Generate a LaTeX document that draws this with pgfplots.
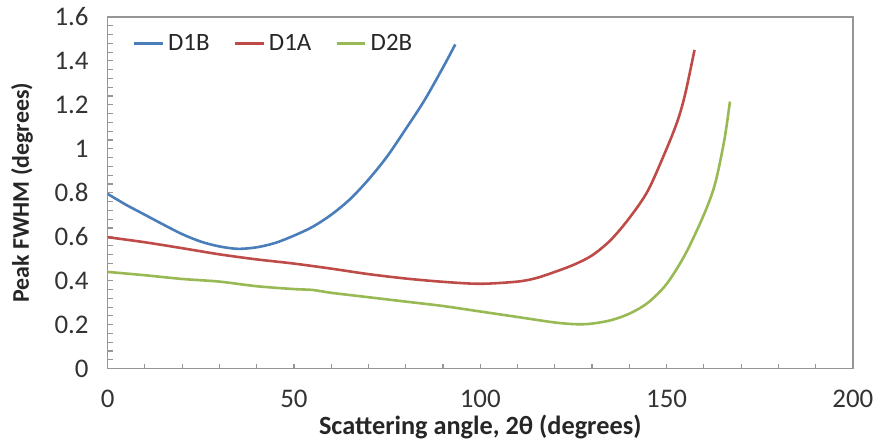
\documentclass[border=0pt]{standalone}
\usepackage{fontspec}
\setmainfont{Carlito}
\usepackage{pgfplots}
\pgfplotsset{compat=1.18}
\definecolor{cB}{RGB}{74,126,187}
\definecolor{cR}{RGB}{190,75,72}
\definecolor{cG}{RGB}{152,185,84}
\definecolor{axg}{RGB}{150,150,150}
\begin{document}
\begin{tikzpicture}
\begin{axis}[
  scale only axis,
  width=374pt, height=176.5pt,
  xmin=0, xmax=200, ymin=0, ymax=1.6,
  xtick={0,50,...,200}, ytick={0,0.2,...,1.6},
  yticklabels={0,0.2,0.4,0.6,0.8,1,1.2,1.4,1.6},
  minor x tick num=4, minor y tick num=4,
  tick align=inside, tick pos=left,
  major tick length=2.5pt, minor tick length=2.5pt,
  every tick/.style={axg, line width=0.6pt},
  axis line style={axg, line width=0.8pt},
  /pgf/number format/assume math mode=true,
  tick label style={font=\fontsize{13.5}{15}\selectfont, text=black!80},
  xticklabel style={yshift=-7pt},
  yticklabel style={xshift=-6pt},
  xlabel={\textbf{Scattering angle, 2θ (degrees)}},
  ylabel={\textbf{Peak FWHM (degrees)}},
  xlabel style={font=\fontsize{13.2}{15}\selectfont, text=black!85, yshift=3pt},
  ylabel style={font=\fontsize{12}{14}\selectfont, text=black!85, yshift=4pt},
  legend style={at={(0.025,0.975)}, anchor=north west, draw=none, fill=none,
    font=\fontsize{12.5}{14}\selectfont, text=black!85,
    /tikz/every even column/.append style={column sep=10pt}},
  legend columns=3,
  legend image code/.code={\draw[#1] (0pt,0pt) -- (14.5pt,0pt);},
  every axis plot/.append style={line width=1.3pt, smooth, no markers},
]
\addplot[cB] coordinates {
(0,0.795) (5,0.745) (10,0.70) (15,0.655) (20,0.612) (25,0.578) (30,0.556)
(35,0.545) (40,0.552) (45,0.572) (50,0.605) (55,0.645) (60,0.70) (65,0.77)
(70,0.86) (75,0.965) (80,1.09) (85,1.22) (90,1.37) (93.3,1.475)};
\addlegendentry{D1B}
\addplot[cR] coordinates {
(0,0.598) (10,0.575) (20,0.548) (30,0.52) (40,0.497) (50,0.478) (60,0.455)
(70,0.43) (80,0.41) (90,0.395) (100,0.386) (110,0.396) (115,0.412) (120,0.44)
(125,0.472) (130,0.515) (135,0.585) (140,0.685) (145,0.81) (150,1.00)
(153,1.13) (155,1.25) (157.5,1.45)};
\addlegendentry{D1A}
\addplot[cG] coordinates {
(0,0.44) (10,0.425) (20,0.408) (30,0.396) (40,0.375) (50,0.362) (55,0.358)
(60,0.345) (70,0.325) (80,0.305) (90,0.285) (100,0.26) (110,0.235) (120,0.21)
(126,0.202) (130,0.205) (135,0.22) (140,0.25) (145,0.30) (150,0.385)
(155,0.52) (160,0.70) (163,0.84) (165.5,1.04) (167,1.215)};
\addlegendentry{D2B}
\end{axis}
\path ([xshift=-54pt,yshift=-36pt]current axis.south west) rectangle ([xshift=12pt,yshift=8.5pt]current axis.north east);
\end{tikzpicture}
\end{document}
